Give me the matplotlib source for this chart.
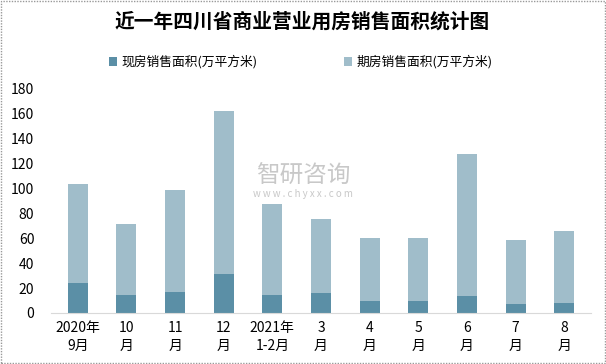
import matplotlib.pyplot as plt
from matplotlib.patches import Rectangle
import numpy as np

plt.rcParams['font.family'] = ['Noto Sans CJK SC', 'DejaVu Sans']

months = ["2020年\n9月", "10\n月", "11\n月", "12\n月", "2021年\n1-2月",
          "3\n月", "4\n月", "5\n月", "6\n月", "7\n月", "8\n月"]
xianfang = [24.0, 14.4, 16.8, 31.2, 14.4, 16.0, 9.6, 9.6, 13.6, 7.2, 8.0]
total = [103.4, 71.3, 98.6, 161.9, 87.3, 75.3, 60.1, 60.1, 127.4, 58.5, 65.7]
qifang = [t - x for t, x in zip(total, xianfang)]

dark = "#5B8FA6"
light = "#A0BDCA"

fig = plt.figure(figsize=(6.06, 3.64), dpi=100)
ax = fig.add_axes([51 / 606, 1 - 313 / 364, 540 / 606, (313 - 88.3) / 364])

x = np.arange(len(months))
ax.bar(x, xianfang, width=0.41, color=dark, label="现房销售面积(万平方米)")
ax.bar(x, qifang, width=0.41, bottom=xianfang, color=light, label="期房销售面积(万平方米)")

ax.set_xlim(-0.55, len(months) - 0.45)
ax.set_ylim(0, 180)
ax.set_yticks(range(0, 181, 20))
ax.set_xticks(x)
ax.set_xticklabels(months, fontsize=10, linespacing=1.35)
ax.tick_params(axis='y', length=0, labelsize=10, pad=12)
ax.tick_params(axis='x', length=0, pad=6)
for s in ["top", "right", "left"]:
    ax.spines[s].set_visible(False)
ax.spines["bottom"].set_color("#D9D9D9")

fig.text(302 / 606, 1 - 22 / 364, "近一年四川省商业营业用房销售面积统计图", ha="center", va="center",
         fontsize=14.2, fontweight="bold")

ax.legend(loc="center left", bbox_to_anchor=(109 / 606, 1 - 62 / 364), bbox_transform=fig.transFigure,
          ncol=2, frameon=False, fontsize=9.2, handlelength=0.65, handleheight=0.65,
          handletextpad=0.3, columnspacing=6.8, borderaxespad=0, borderpad=0)

# watermark
fig.text(0.5, 1 - 176 / 364, "智研咨询", ha="center", va="center", fontsize=17, color="#BBBBBB", alpha=0.8)
fig.text(0.5, 1 - 194 / 364, "w w w . c h y x x . c o m", ha="center", va="center", fontsize=7, color="#BBBBBB", alpha=0.8)

fig.patches.append(Rectangle((0.002, 0.003), 0.996, 0.994, transform=fig.transFigure, fill=False,
                             edgecolor="#999999", linestyle=(0, (1, 1)), linewidth=1))

fig.savefig("out.png", dpi=100)
